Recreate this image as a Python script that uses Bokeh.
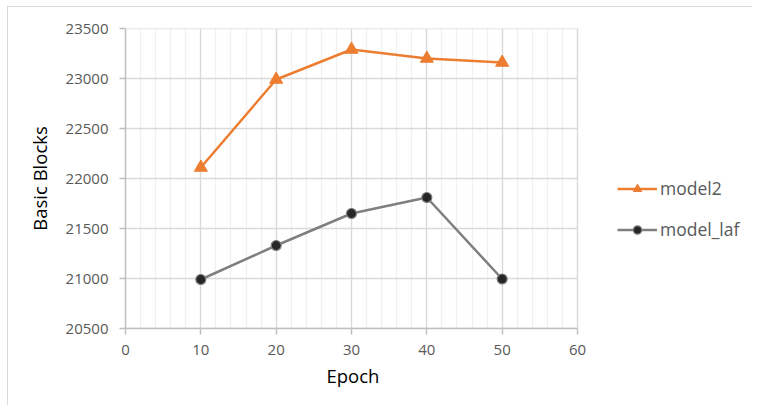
from bokeh.plotting import figure
from bokeh.models import Range1d, SingleIntervalTicker, Legend, LegendItem, Title
from bokeh.embed import file_html
from bokeh.resources import INLINE

epochs = [10, 20, 30, 40, 50]
model2 = [22110, 22990, 23290, 23200, 23160]
model_laf = [20990, 21330, 21650, 21810, 20995]
series_names = ["model2", "model_laf"]
x_ticks = [0, 10, 20, 30, 40, 50, 60]
y_ticks = [20500, 21000, 21500, 22000, 22500, 23000, 23500]

FONT = "Open Sans"
W, H = 752, 405
LEFT, TOP, BOTTOM = 125, 28, 77
frame_w = W - LEFT
x_end = x_ticks[-1] * frame_w / 452.0  # extend range so legend lives inside frame

p = figure(width=W, height=H, output_backend="svg", toolbar_location=None,
           x_range=Range1d(x_ticks[0], x_end), y_range=Range1d(y_ticks[0], y_ticks[-1]),
           min_border_left=LEFT, min_border_right=0, min_border_top=TOP, min_border_bottom=BOTTOM)
p.outline_line_color = None
p.background_fill_color = "white"
p.border_fill_color = None
p.styles = {
    "background": "linear-gradient(#d9d9d9,#d9d9d9) 7px 6px / 1px 100% no-repeat, "
                  "linear-gradient(#d9d9d9,#d9d9d9) 7px 6px / 100% 1px no-repeat, white"
}

p.xaxis.ticker = SingleIntervalTicker(interval=10, num_minor_ticks=5)
p.yaxis.ticker = SingleIntervalTicker(interval=500, num_minor_ticks=0)
p.xaxis.bounds = (x_ticks[0], x_ticks[-1])

p.xgrid.bounds = (x_ticks[0], x_ticks[-1])
p.xgrid.grid_line_color = "#d9d9d9"
p.xgrid.grid_line_width = 1.3
p.xgrid.minor_grid_line_color = "#f0f0f0"
p.xgrid.minor_grid_line_width = 1.3
p.ygrid.visible = False
p.segment(x0=[x_ticks[0]] * len(y_ticks), x1=[x_ticks[-1]] * len(y_ticks), y0=y_ticks, y1=y_ticks,
          line_color="#d9d9d9", line_width=1.3)

for ax in (p.xaxis, p.yaxis):
    ax.axis_line_color = "#bfbfbf"
    ax.axis_line_width = 1.5
    ax.major_tick_line_color = "#bfbfbf"
    ax.major_tick_line_width = 1.5
    ax.major_tick_in = 0
    ax.major_tick_out = 6
    ax.minor_tick_line_color = None
    ax.major_label_text_font = FONT
    ax.major_label_text_font_size = "15px"
    ax.major_label_text_color = "#595959"
    ax.axis_label_text_font = FONT
    ax.axis_label_text_font_size = "18.5px"
    ax.axis_label_text_font_style = "normal"
    ax.axis_label_text_color = "#000000"

p.yaxis.axis_label = "Basic Blocks"
p.xaxis.major_label_standoff = 10
p.yaxis.major_label_standoff = 11
p.yaxis.axis_label_standoff = 11

xt = Title(text="Epoch", align="left", offset=201, standoff=7,
           text_font=FONT, text_font_size="18.5px", text_font_style="normal", text_color="#000000")
p.add_layout(xt, "below")

l1 = p.line(epochs, model2, line_color="#ED7D31", line_width=2.5)
m1 = p.scatter(epochs, model2, marker="triangle", size=13, fill_color="#ED7D31", line_color="#ED7D31")
l2 = p.line(epochs, model_laf, line_color="#7f7f7f", line_width=2.5)
m2 = p.scatter(epochs, model_laf, marker="circle", size=10, fill_color="#262626", line_color="#7f7f7f", line_width=1.2)

legend = Legend(items=[LegendItem(label=series_names[0], renderers=[l1, m1]),
                       LegendItem(label=series_names[1], renderers=[l2, m2])],
                location=(492, 87), orientation="vertical")
legend.border_line_color = None
legend.background_fill_alpha = 0
legend.padding = 0
legend.margin = 0
legend.spacing = 17
legend.glyph_width = 40
legend.glyph_height = 21
legend.label_standoff = 3
legend.label_height = 21
legend.label_text_font = FONT
legend.label_text_font_size = "17.5px"
legend.label_text_color = "#595959"
p.add_layout(legend, "center")

open("out.html", "w").write(file_html(p, INLINE))
